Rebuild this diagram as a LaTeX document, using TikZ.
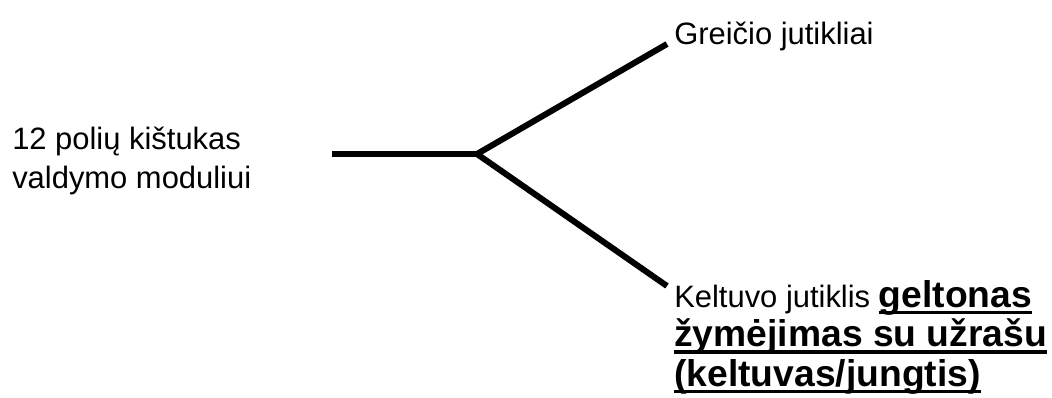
\documentclass[tikz,border=0pt]{standalone}
\usepackage{fontspec}
\setmainfont{Liberation Sans}
\usetikzlibrary{positioning}
\newsavebox{\ulbox}
\newcommand{\ulbold}[1]{\sbox{\ulbox}{\bfseries #1}%
  \rlap{\rule[-5.2pt]{\wd\ulbox}{2.4pt}}\usebox{\ulbox}}

\begin{document}
\begin{tikzpicture}[
  wire/.style={line width=4.3pt},
  lbl/.style={inner sep=0pt,align=left,anchor=base west,
    font=\fontsize{22}{27.6}\selectfont},
  boldlbl/.style={font=\fontsize{26.5}{28.3}\selectfont}
]

%% page frame
\useasboundingbox (0,0) rectangle (26.3,-9.925);

%% branch points
\coordinate (plug) at (8.3,-3.85);
\coordinate (split) at (11.925,-3.85);
\coordinate (speedend) at (16.675,-1.1);
\coordinate (liftend) at (16.675,-7.15);

%% wires
\draw[wire] (plug) -- (split);
\draw[wire] (split) -- (speedend);
\draw[wire] (split) -- (liftend);

%% labels
\node[lbl] (plugtxt) at (0.3,-4.7) {12 polių kištukas\\valdymo moduliui};
\node[lbl] (speedtxt) at (16.85,-1.12) {Greičio jutikliai};
\node[lbl] (lifttxt) at (16.85,-7.675)
  {Keltuvo jutiklis {\fontsize{26.5}{28.3}\selectfont\ulbold{geltonas}}};
\node[lbl,boldlbl] (liftnote) at (16.85,-9.65)
  {\ulbold{žymėjimas su užrašu}\\\ulbold{(keltuvas/jungtis)}};

\end{tikzpicture}
\end{document}
